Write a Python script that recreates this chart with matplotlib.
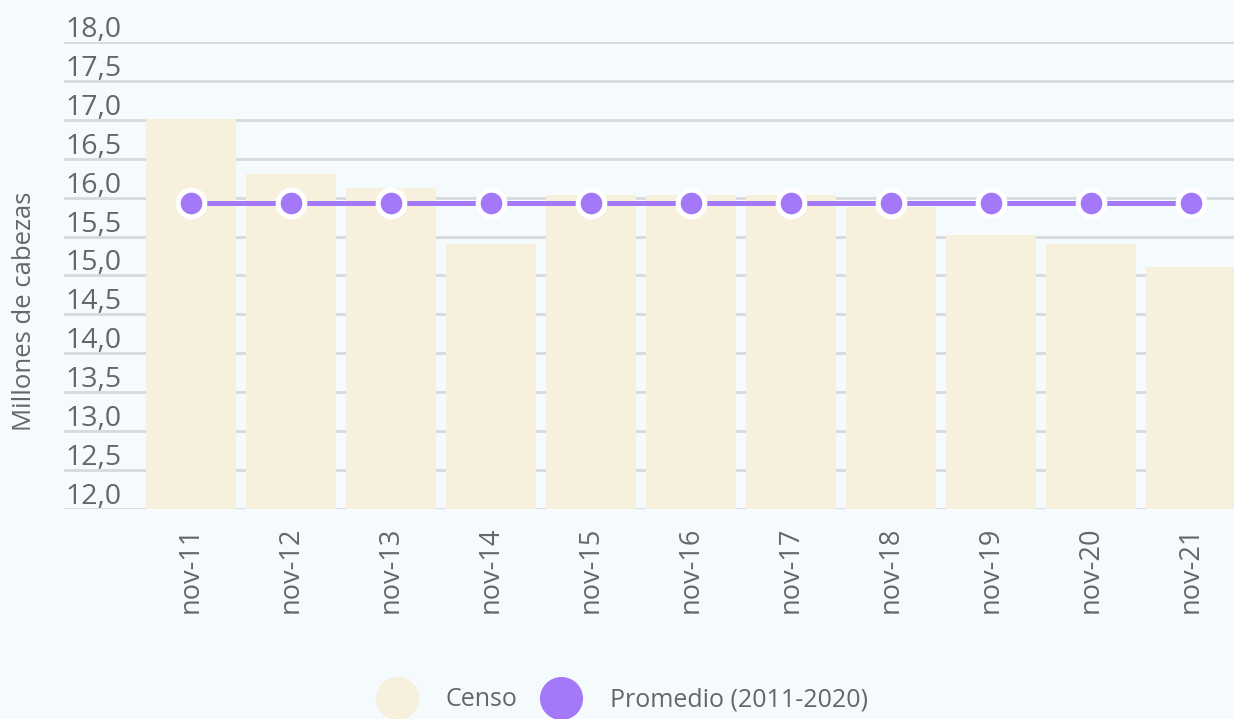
# Censo de cabezas (noviembre) con promedio 2011-2020
import matplotlib.pyplot as plt
import matplotlib.transforms as mtransforms
from matplotlib.lines import Line2D

plt.rcParams['font.family'] = ['Open Sans', 'DejaVu Sans']

# Data
meses = ["nov-11", "nov-12", "nov-13", "nov-14", "nov-15", "nov-16",
         "nov-17", "nov-18", "nov-19", "nov-20", "nov-21"]
censo = [17.01, 16.30, 16.13, 15.41, 16.03, 16.03, 16.03, 15.88, 15.52, 15.41, 15.11]
promedio = [15.93] * len(meses)
y_ticks = [12.0, 12.5, 13.0, 13.5, 14.0, 14.5, 15.0, 15.5, 16.0, 16.5, 17.0, 17.5, 18.0]

# Colours
bg = "#f5fafd"
bar_color = "#f6f0dc"
line_color = "#a378f9"
grid_color = "#d6dadd"
text_color = "#666666"

fig = plt.figure(figsize=(12.34, 7.19), dpi=100, facecolor=bg)
ax = fig.add_axes([64 / 1234, 1 - 508.5 / 719, 1 - 64 / 1234, (508.5 - 42.3) / 719])
ax.set_facecolor(bg)

x = list(range(len(meses)))

# Grid lines
for t in y_ticks:
    ax.axhline(t, color=grid_color, linewidth=2.0, zorder=0)

# Bars
ax.bar(x, [c - 12.0 for c in censo], bottom=12.0, width=0.9, color=bar_color, zorder=1)

# Average line
ax.plot(x, promedio, color=line_color, linewidth=3.6, marker="o", markersize=19.2,
        markerfacecolor=line_color, markeredgecolor="white", markeredgewidth=3.6, zorder=3)

ax.set_xlim(-1.27, 10.43)
ax.set_ylim(12.0, 18.0)

# y tick labels sit above the grid lines, left aligned
ax.set_yticks([])
label_tr = mtransforms.offset_copy(ax.get_yaxis_transform(), fig=fig, x=1, y=-2, units="dots")
for t in y_ticks:
    ax.text(0.0, t, f"{t:.1f}".replace(".", ","), transform=label_tr,
            ha="left", va="bottom", fontsize=20.5, color=text_color)

ax.set_xticks(x)
ax.set_xticklabels(meses, rotation=90, fontsize=19.5, color=text_color)
ax.tick_params(axis="x", length=0, pad=13)

for s in ax.spines.values():
    s.set_visible(False)

fig.text(25 / 1234, 1 - 311 / 719, "Millones de cabezas", rotation=90,
         ha="center", va="center", fontsize=18.5, color=text_color)

handles = [
    Line2D([], [], linestyle="none", marker="o", markersize=30, color=bar_color),
    Line2D([], [], linestyle="none", marker="o", markersize=30, color=line_color),
]
leg = fig.legend(handles, ["Censo", "Promedio (2011-2020)"], loc="center",
                 bbox_to_anchor=(0.505, 1 - 700 / 719), ncol=2, frameon=False,
                 fontsize=18, handletextpad=1.2, columnspacing=1.0, handlelength=1.5)
for t in leg.get_texts():
    t.set_color(text_color)

fig.savefig("out.png", dpi=100, facecolor=bg)
